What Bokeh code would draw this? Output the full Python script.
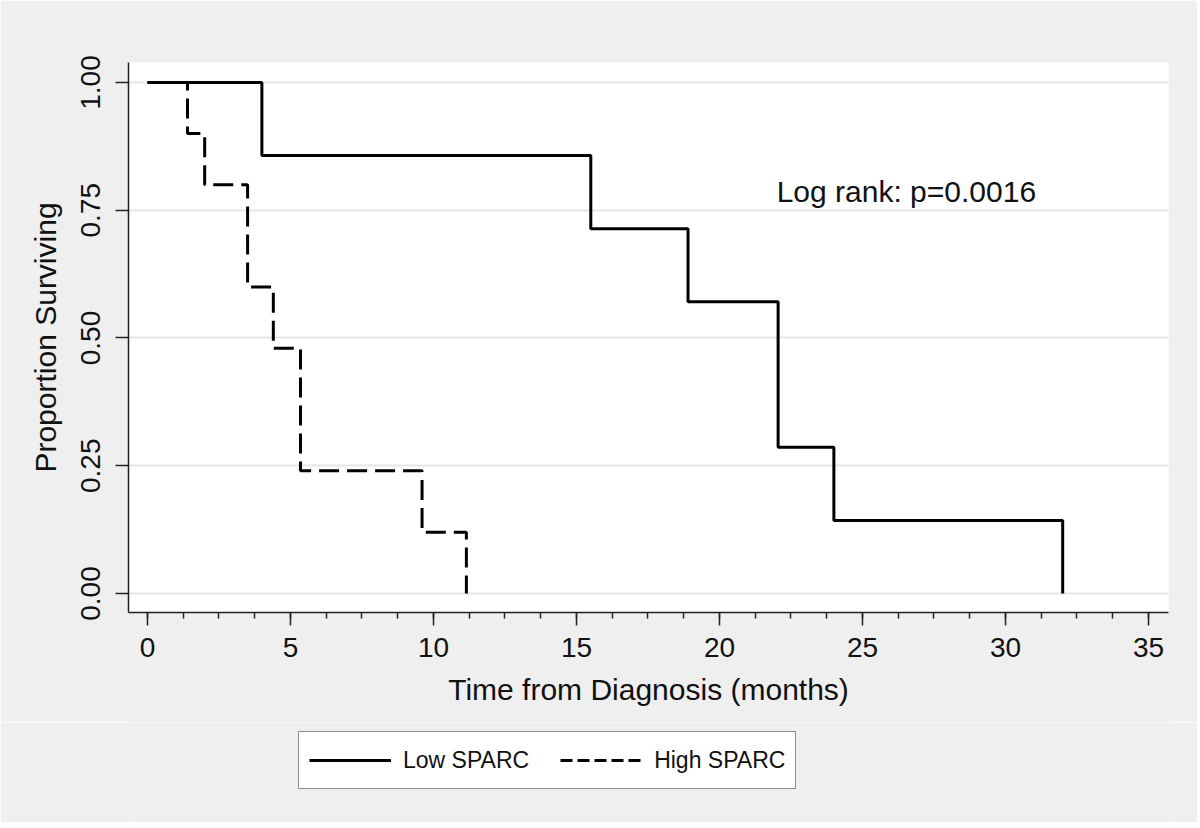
from bokeh.plotting import figure
from bokeh.layouts import column
from bokeh.models import (Range1d, SingleIntervalTicker, FixedTicker, PrintfTickFormatter,
                          Legend, LegendItem, Label)
from bokeh.embed import file_html
from bokeh.resources import INLINE

# Kaplan-Meier estimates
low_time = [0.0, 4.0, 15.5, 18.9, 22.05, 24.0, 32.0]
low_surv = [1.0, 0.857, 0.714, 0.571, 0.286, 0.143, 0.0]
high_time = [0.0, 1.4, 2.0, 3.5, 4.4, 5.35, 9.6, 11.15]
high_surv = [1.0, 0.9, 0.8, 0.6, 0.48, 0.24, 0.12, 0.0]

series_names = ["Low SPARC", "High SPARC"]
y_ticks = [0.0, 0.25, 0.5, 0.75, 1.0]
annotation_text = "Log rank: p=0.0016"

FONT = "Liberation Sans"
BG = "#efefef"
W = 1197

p = figure(width=W, height=722, output_backend="svg", toolbar_location=None,
           x_range=Range1d(-0.664, 35.70), y_range=Range1d(-0.0372, 1.0391),
           min_border_left=128, min_border_right=29, min_border_top=62, min_border_bottom=110)
p.background_fill_color = "white"
p.border_fill_color = BG
p.outline_line_color = None

# grid
p.xgrid.grid_line_color = None
p.ygrid.grid_line_color = "#e6e6e6"
p.ygrid.grid_line_width = 2
p.ygrid.ticker = FixedTicker(ticks=y_ticks)

# x axis
xa = p.xaxis[0]
xa.ticker = SingleIntervalTicker(interval=5, num_minor_ticks=4)
xa.axis_line_color = "#222222"
xa.axis_line_width = 1.5
xa.major_tick_line_color = "#222222"
xa.major_tick_line_width = 1.5
xa.minor_tick_line_color = "#222222"
xa.minor_tick_line_width = 1.5
xa.major_tick_out = 13
xa.major_tick_in = 0
xa.minor_tick_out = 6
xa.minor_tick_in = 0
xa.major_label_text_font = FONT
xa.major_label_text_font_size = "28px"
xa.major_label_text_color = "#111111"
xa.major_label_standoff = 12
xa.axis_label = "Time from Diagnosis (months)"
xa.axis_label_text_font = FONT
xa.axis_label_text_font_size = "30px"
xa.axis_label_text_font_style = "normal"
xa.axis_label_text_color = "#111111"
xa.axis_label_standoff = 13

# y axis
ya = p.yaxis[0]
ya.ticker = FixedTicker(ticks=y_ticks)
ya.formatter = PrintfTickFormatter(format="%.2f")
ya.axis_line_color = "#222222"
ya.axis_line_width = 1.5
ya.major_tick_line_color = "#222222"
ya.major_tick_line_width = 1.5
ya.minor_tick_line_color = None
ya.major_tick_out = 13
ya.major_tick_in = 0
ya.major_label_orientation = "vertical"
ya.major_label_text_font = FONT
ya.major_label_text_font_size = "28px"
ya.major_label_text_color = "#111111"
ya.major_label_standoff = 15
ya.axis_label = "Proportion Surviving"
ya.axis_label_text_font = FONT
ya.axis_label_text_font_size = "30px"
ya.axis_label_text_font_style = "normal"
ya.axis_label_text_color = "#111111"
ya.axis_label_standoff = 17

p.step(low_time, low_surv, mode="after", line_color="black", line_width=3)
p.step(high_time, high_surv, mode="after", line_color="black", line_width=3,
       line_dash="20 8")

p.add_layout(Label(x=22.0, y=0.786, text=annotation_text, text_font=FONT,
                   text_font_size="30px", text_color="#111111", text_baseline="alphabetic"))

# legend strip below the plot
lg = figure(width=W, height=100, output_backend="svg", toolbar_location=None,
            x_range=Range1d(0, 1), y_range=Range1d(0, 1),
            min_border=0, min_border_left=0, min_border_right=0,
            min_border_top=0, min_border_bottom=0)
lg.axis.visible = False
lg.grid.visible = False
lg.background_fill_color = BG
lg.border_fill_color = BG
lg.outline_line_color = None
# single-point lines: nothing is drawn in the strip, only the legend keys
k_low = lg.line(low_time[:1], low_surv[:1], line_color="black", line_width=3)
k_high = lg.line(high_time[:1], high_surv[:1], line_color="black", line_width=3,
                 line_dash="12 5")

legend = Legend(items=[LegendItem(label=series_names[0], renderers=[k_low]),
                       LegendItem(label=series_names[1], renderers=[k_high])],
                orientation="horizontal", location=(170, 33),
                glyph_width=82, glyph_height=36, label_height=36, label_standoff=12,
                spacing=31, padding=10, margin=0,
                label_text_font=FONT, label_text_font_size="23px",
                label_text_color="#111111", label_text_baseline="middle",
                border_line_color="#222222", border_line_width=1.5,
                background_fill_color="white", background_fill_alpha=1.0)
lg.add_layout(legend, "center")

open("out.html", "w").write(file_html(column(p, lg, spacing=0), INLINE))
